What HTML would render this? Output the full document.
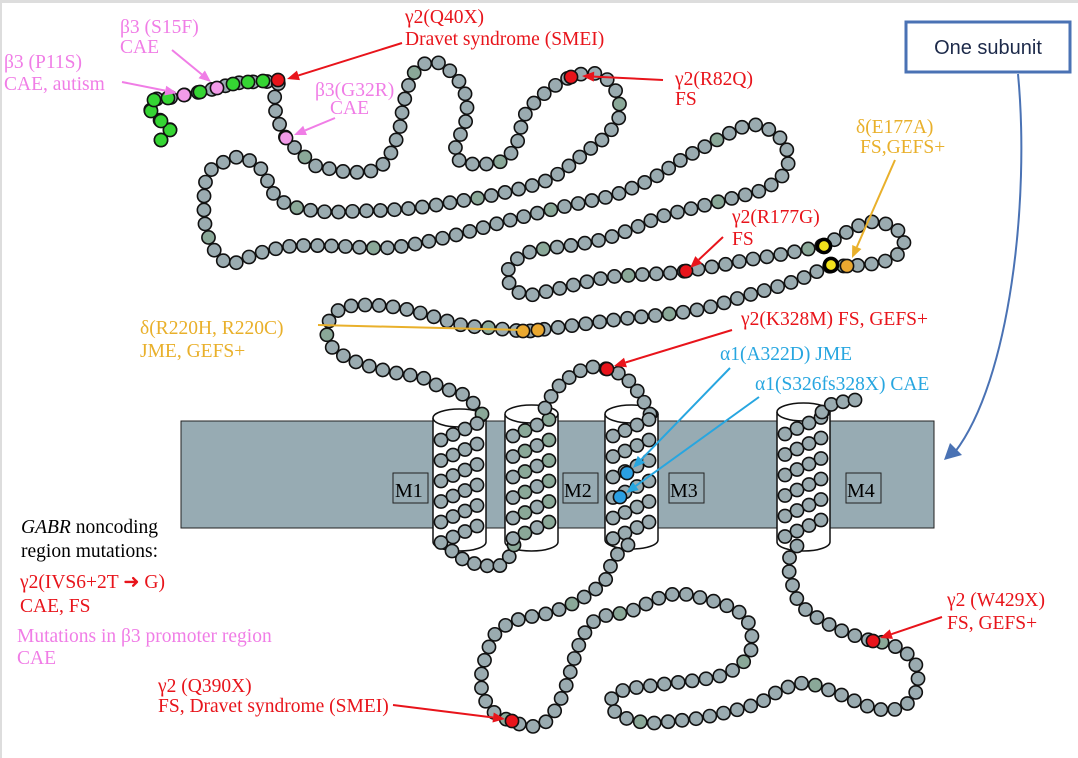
<!DOCTYPE html>
<html><head><meta charset="utf-8">
<style>
html,body{margin:0;padding:0;background:#fff;}
svg{display:block;}
text{font-family:"Liberation Serif",serif;font-size:19.5px;}
.r{fill:#e8141b}.p{fill:#f07de6}.o{fill:#e9b02b}.b{fill:#27a6e0}.k{fill:#000}
</style></head>
<body>
<svg id="s" width="1078" height="758" viewBox="0 0 1078 758" xmlns="http://www.w3.org/2000/svg">
<rect x="0" y="0" width="1078" height="758" fill="#fff"/>
<rect x="0" y="0" width="1078" height="3" fill="#ddd"/>
<rect x="0" y="0" width="2" height="758" fill="#ddd"/>
<rect x="181" y="421" width="753" height="107" fill="#97abb3" stroke="#222" stroke-width="1"/>
<g id="cyl"></g>
<g id="labels" font-family="Liberation Serif,serif" fill="#000">
<rect x="393" y="473" width="35" height="30" fill="#97abb3" stroke="#222"/><text x="395" y="497" style="font-size:20px">M1</text>
<rect x="563" y="473" width="35" height="30" fill="#97abb3" stroke="#222"/><text x="564" y="497" style="font-size:20px">M2</text>
<rect x="669" y="473" width="35" height="30" fill="#97abb3" stroke="#222"/><text x="670" y="497" style="font-size:20px">M3</text>
<rect x="846" y="473" width="35" height="30" fill="#97abb3" stroke="#222"/><text x="847" y="497" style="font-size:20px">M4</text>
</g>
<g id="beads"></g>
<g id="arrows"></g>
<rect x="906" y="22" width="164" height="50" fill="#fff" stroke="#4a72b4" stroke-width="3"/>
<text x="988" y="54" text-anchor="middle" style="font-family:'Liberation Sans',sans-serif;font-size:20px" fill="#1d2a4a">One subunit</text>
<path d="M1018,74 C1030,200 1010,380 955,452" fill="none" stroke="#4a72b4" stroke-width="2"/>
<polygon points="944,460 950,443 962,455" fill="#4a72b4"/>

<text class="p" x="4" y="68">β3 (P11S)</text>
<text class="p" x="4" y="90">CAE, autism</text>
<text class="p" x="120" y="33">β3 (S15F)</text>
<text class="p" x="120" y="53">CAE</text>
<text class="r" x="405" y="23">γ2(Q40X)</text>
<text class="r" x="405" y="45">Dravet syndrome (SMEI)</text>
<text class="p" x="315" y="96">β3(G32R)</text>
<text class="p" x="330" y="114">CAE</text>
<text class="r" x="675" y="85">γ2(R82Q)</text>
<text class="r" x="675" y="105">FS</text>
<text class="o" x="856" y="133">δ(E177A)</text>
<text class="o" x="860" y="153">FS,GEFS+</text>
<text class="r" x="732" y="223">γ2(R177G)</text>
<text class="r" x="732" y="245">FS</text>
<text class="o" x="140" y="334">δ(R220H, R220C)</text>
<text class="o" x="140" y="357">JME, GEFS+</text>
<text class="r" x="741" y="325">γ2(K328M) FS, GEFS+</text>
<text class="b" x="720" y="360">α1(A322D) JME</text>
<text class="b" x="755" y="390">α1(S326fs328X) CAE</text>
<text class="k" x="21" y="533"><tspan font-style="italic">GABR</tspan> noncoding</text>
<text class="k" x="21" y="557">region mutations:</text>
<text class="r" x="20" y="588">γ2(IVS6+2T ➜ G)</text>
<text class="r" x="20" y="612">CAE, FS</text>
<text class="p" x="17" y="642">Mutations in β3 promoter region</text>
<text class="p" x="17" y="664">CAE</text>
<text class="r" x="947" y="606">γ2 (W429X)</text>
<text class="r" x="947" y="629">FS, GEFS+</text>
<text class="r" x="158" y="692">γ2 (Q390X)</text>
<text class="r" x="158" y="712">FS, Dravet syndrome (SMEI)</text>
</svg>
<script>
(function(){
var NS="http://www.w3.org/2000/svg",svg=document.getElementById('s');
function el(t,a,p){var e=document.createElementNS(NS,t);for(var k in a)e.setAttribute(k,a[k]);(p||svg).appendChild(e);return e;}
var beads=document.getElementById('beads'),cyl=document.getElementById('cyl'),arr=document.getElementById('arrows');
var GRAY="#9aabb0",GREEN="#8aa898",R=6.6;
function bead(x,y,c){el('circle',{cx:x,cy:y,r:R,fill:c||GRAY,stroke:'#111','stroke-width':1.6},beads);}
function cr(pts){var d="M"+pts[0][0]+","+pts[0][1];for(var i=0;i<pts.length-1;i++){var p0=pts[i-1]||pts[i],p1=pts[i],p2=pts[i+1],p3=pts[i+2]||p2;
d+=" C"+(p1[0]+(p2[0]-p0[0])/6)+","+(p1[1]+(p2[1]-p0[1])/6)+" "+(p2[0]-(p3[0]-p1[0])/6)+","+(p2[1]-(p3[1]-p1[1])/6)+" "+p2[0]+","+p2[1];}return d;}
function chain(pts,sp){var p=el('path',{d:cr(pts),fill:'none',stroke:'none'});var L=p.getTotalLength();var n=Math.round(L/sp);
for(var i=0;i<=n;i++){var q=p.getPointAtLength(L*i/n);bead(q.x,q.y,(i%13==6)?GREEN:GRAY);}}
function cylinder(xl,xr,yt,yb){var cx=(xl+xr)/2,rx=(xr-xl)/2,ry=9;
el('path',{d:"M"+xl+","+yt+" L"+xl+","+yb+" A"+rx+","+ry+" 0 0 0 "+xr+","+yb+" L"+xr+","+yt,fill:'#fff',stroke:'#111','stroke-width':1.5},cyl);
el('ellipse',{cx:cx,cy:yt,rx:rx,ry:ry,fill:'#fff',stroke:'#111','stroke-width':1.5},cyl);}
var C=[[433,486,418,542],[505,558,414,542],[605,658,414,540],[777,830,412,542]];
C.forEach(function(c){cylinder(c[0],c[1],c[2],c[3]);});
function helix(c,col){var xl=c[0],yt=c[2],yb=c[3];for(var y=yt+22;y<=yb+2;y+=20.5){for(var k=0;k<4;k++){bead(xl+8+k*12,y-k*5.5,(col&&k%2==1)?GREEN:GRAY);}}}
var A=[[161,140],[170,130],[161,121],[151,111],[154,100],[168,98],[184,95],[200,92],[218,88],[232,84],[247,82],[263,82],[278,81],
[275,93],[275,107],[278,120],[286,138],[296,149],[306,158],[316,166],[331,169],[347,172],[362,172],[377,169],[388,158],[395,143],[400,127],[403,107],[408,87],[414,73],[424,64],[439,63],[451,72],[463,88],[467,107],[465,124],[458,140],[455,152],[460,161],[472,164],[487,164],[502,161],[512,152],[518,140],[521,127],[526,113],[538,99],[556,85],[571,77],[589,73],[602,76],[613,86],[619,101],[619,117],[612,129],[602,140],[590,149],[576,160],[561,172],[543,182],[515,190],[484,197],[454,202],[423,207],[390,210],[360,211],[329,212],[298,208],[280,200],[270,188],[265,174],[255,164],[240,157],[224,162],[211,170],[205,184],[204,198],[204,212],[205,224],[208,236],[213,248],[220,258],[231,264],[244,259],[263,252],[293,246],[334,246],[380,248],[410,245],[456,235],[507,221],[558,208],[607,197],[630,189],[655,177],[681,160],[706,146],[732,132],[750,125],[766,128],[782,140],[788,155],[787,168],[779,179],[762,190],[737,197],[686,210],[660,217],[632,229],[604,239],[574,245],[543,249],[525,254],[513,263],[507,274],[512,287],[527,295],[553,290],[604,278],[635,275],[671,273],[686,271],[717,266],[747,260],[778,255],[808,249],[824,245],[839,237],[854,228],[870,222],[889,225],[902,235],[903,247],[893,258],[877,263],[862,265],[847,266],[831,266],[816,272],[798,280],[773,288],[742,297],[717,305],[691,311],[660,315],[630,318],[599,322],[569,326],[538,330],[523,331],[492,328],[462,325],[431,316],[400,308],[370,305],[346,307],[332,316],[327,330],[329,343],[339,353],[354,361],[362,364],[391,372],[420,377],[434,384],[449,390],[464,395],[474,404],[482,414]];
chain(A,14);
helix(C[0],false);
chain([[452,551],[466,561],[483,565],[499,566],[512,553],[514,545]],14);
helix(C[1],true);
chain([[545,408],[549,400],[557,388],[570,377],[582,370],[593,367],[607,369],[620,374],[630,382],[638,392],[644,402],[650,414]],13.5);
helix(C[2],false);
chain([[628,545],[615,557],[609,570],[604,582],[590,593],[574,603],[549,613],[520,619],[503,627],[493,637],[488,650],[483,666],[481,683],[485,700],[497,715],[512,721],[526,726],[541,725],[551,716],[559,703],[566,686],[572,666],[577,650],[583,636],[592,623],[604,616],[628,612],[644,605],[665,596],[682,594],[698,597],[716,602],[736,610],[748,622],[752,637],[750,653],[740,665],[723,675],[698,680],[673,683],[649,686],[624,690],[611,700],[616,713],[632,720],[653,723],[674,721],[694,719],[715,715],[740,709],[761,702],[781,690],[804,683],[823,688],[844,696],[864,705],[885,710],[902,707],[914,696],[918,680],[915,663],[902,650],[885,643],[873,641],[856,636],[840,630],[823,621],[806,610],[796,597],[792,583],[789,570],[790,556],[797,546]],14);
helix(C[3],false);
chain([[822,412],[830,405],[842,402],[855,400]],13);
var S=[[161,140,'#35d533'],[170,130,'#35d533'],[161,121,'#35d533'],[151,111,'#35d533'],[154,100,'#35d533'],[168,98,'#35d533'],[184,95,'#f29be9'],[200,92,'#35d533'],[217,88,'#f29be9'],[233,84,'#35d533'],[248,82,'#35d533'],[263,81,'#35d533'],[278,80,'#e8141b'],
[286,138,'#f29be9'],[571,77,'#e8141b'],[686,271,'#e8141b'],[847,266,'#eaa830'],[538,330,'#eaa830'],[523,331,'#eaa830'],[607,369,'#e8141b'],[512,721,'#e8141b'],[873,641,'#e8141b'],[627,473,'#2a9fe3'],[620,497,'#2a9fe3']];
S.forEach(function(s){bead(s[0],s[1],s[2]);});
[[824,246],[831,265]].forEach(function(s){el('circle',{cx:s[0],cy:s[1],r:6.6,fill:'#f2e21c',stroke:'#000','stroke-width':3.5},beads);});
function arrow(x1,y1,x2,y2,c){var dx=x2-x1,dy=y2-y1,L=Math.hypot(dx,dy),ux=dx/L,uy=dy/L,h=12,w=5;
var bx=x2-ux*h,by=y2-uy*h;el('line',{x1:x1,y1:y1,x2:bx,y2:by,stroke:c,'stroke-width':2},arr);
el('polygon',{points:x2+","+y2+" "+(bx-uy*w)+","+(by+ux*w)+" "+(bx+uy*w)+","+(by-ux*w),fill:c},arr);}
var RED='#e8141b',PK='#f07de6',OR='#e9b02b',BL='#27a6e0';
arrow(122,82,177,93,PK);arrow(172,50,211,82,PK);arrow(402,43,287,79,RED);arrow(335,118,294,135,PK);
arrow(663,80,582,76,RED);arrow(895,160,852,258,OR);arrow(723,237,690,268,RED);
el('line',{x1:318,y1:325,x2:522,y2:330,stroke:OR,'stroke-width':2},arr);
arrow(732,330,614,366,RED);arrow(730,368,633,468,BL);arrow(759,397,626,493,BL);
arrow(942,617,880,638,RED);arrow(393,705,505,719,RED);
})();
</script>
</body></html>
